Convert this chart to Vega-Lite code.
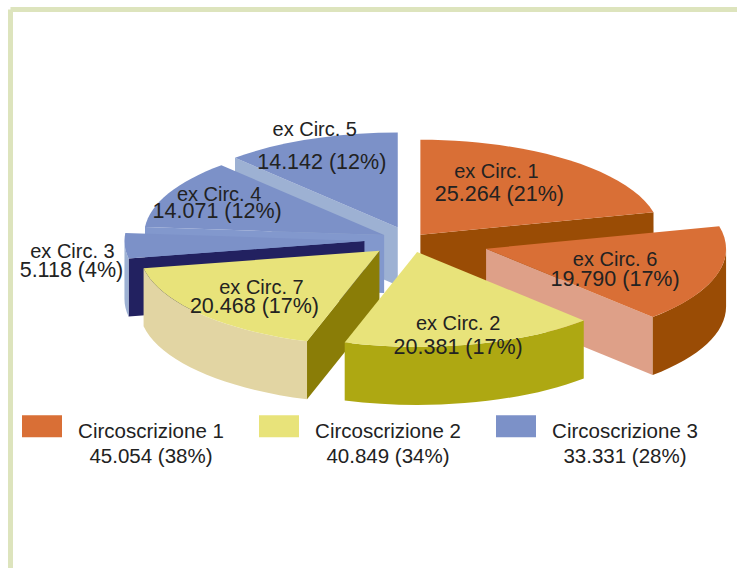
{
"$schema":"https://vega.github.io/schema/vega-lite/v6.json",
"width":727,"height":559,
"autosize":{"type":"none"},
"padding":{"left":10,"top":9,"right":0,"bottom":0},
"background":"white",
"config":{"view":{"stroke":null},"axis":{"title":null,"labels":false,"ticks":false,"grid":false,"domain":true,"domainColor":"#DDE4BD","domainWidth":5}},
"data":{"values":[
{"name":"ex Circ. 1","votes":25264,"group":"Circoscrizione 1"},
{"name":"ex Circ. 6","votes":19790,"group":"Circoscrizione 1"},
{"name":"ex Circ. 2","votes":20381,"group":"Circoscrizione 2"},
{"name":"ex Circ. 7","votes":20468,"group":"Circoscrizione 2"},
{"name":"ex Circ. 3","votes":5118,"group":"Circoscrizione 3"},
{"name":"ex Circ. 4","votes":14071,"group":"Circoscrizione 3"},
{"name":"ex Circ. 5","votes":14142,"group":"Circoscrizione 3"}
]},
"transform":[
{"joinaggregate":[{"op":"sum","field":"votes","as":"total"}]},
{"window":[{"op":"sum","field":"votes","as":"cum"}],"frame":[null,0]},
{"calculate":"(datum.cum-datum.votes)/datum.total*2*PI","as":"a0"},
{"calculate":"datum.cum/datum.total*2*PI","as":"a1"},
{"calculate":"(datum.a0+datum.a1)/2","as":"mid"},
{"calculate":"{'ex Circ. 1':0.07,'ex Circ. 6':0.33,'ex Circ. 2':0.13,'ex Circ. 7':0.17,'ex Circ. 3':0.19,'ex Circ. 4':0.12,'ex Circ. 5':0.14}[datum.name]","as":"pull"},
{"calculate":"410+datum.pull*240*sin(datum.mid)","as":"cx"},
{"calculate":"240-datum.pull*95*cos(datum.mid)","as":"cy"},
{"calculate":"round(240*sin(datum.a0)*100)/100","as":"sx"},
{"calculate":"round(-95*cos(datum.a0)*100)/100","as":"sy"},
{"calculate":"round(240*sin(datum.a1)*100)/100","as":"ex"},
{"calculate":"round(-95*cos(datum.a1)*100)/100","as":"ey"},
{"calculate":"'M0,0L'+datum.sx+','+datum.sy+'A240,95,0,0,1,'+datum.ex+','+datum.ey+'Z'","as":"topPath"},
{"calculate":"max(datum.a0,PI/2)","as":"o0"},
{"calculate":"min(datum.a1,3*PI/2)","as":"o1"},
{"calculate":"round(240*sin(datum.o0)*100)/100","as":"ox0"},
{"calculate":"round(-95*cos(datum.o0)*100)/100","as":"oy0"},
{"calculate":"round(240*sin(datum.o1)*100)/100","as":"ox1"},
{"calculate":"round(-95*cos(datum.o1)*100)/100","as":"oy1"},
{"calculate":"'M'+datum.ox0+','+datum.oy0+'A240,95,0,0,1,'+datum.ox1+','+datum.oy1+'L'+datum.ox1+','+(datum.oy1+58)+'A240,95,0,0,0,'+datum.ox0+','+(datum.oy0+58)+'Z'","as":"outerPath"},
{"calculate":"sin(datum.a0)<-0.001?datum.a0:datum.a1","as":"ra"},
{"calculate":"round(240*sin(datum.ra)*100)/100","as":"rx"},
{"calculate":"round(-95*cos(datum.ra)*100)/100","as":"ry"},
{"calculate":"'M0,0L'+datum.rx+','+datum.ry+'L'+datum.rx+','+(datum.ry+58)+'L0,58Z'","as":"radialPath"},
{"calculate":"{'ex Circ. 1':'#9A4C05','ex Circ. 6':'#DEA088','ex Circ. 2':'#AEA812','ex Circ. 7':'#8A7D07','ex Circ. 3':'#222160','ex Circ. 4':'#8298CD','ex Circ. 5':'#9DB1D3'}[datum.name]","as":"radialFill"},
{"calculate":"{'ex Circ. 1':'#9A4C05','ex Circ. 6':'#9A4C05','ex Circ. 2':'#AEA812','ex Circ. 7':'#E2D5A3','ex Circ. 3':'#9DB1D3','ex Circ. 4':'#9DB1D3','ex Circ. 5':'#9DB1D3'}[datum.name]","as":"outerFill"},
{"calculate":"{'ex Circ. 5':0,'ex Circ. 4':1,'ex Circ. 3':2,'ex Circ. 1':3,'ex Circ. 6':4,'ex Circ. 7':5,'ex Circ. 2':6}[datum.name]","as":"depth"},
{"calculate":"{'ex Circ. 1':[76,-63,79,-40],'ex Circ. 6':[129,11,129,31],'ex Circ. 2':[41,72,41,96],'ex Circ. 7':[-118,37,-125,56],'ex Circ. 3':[-292,11,-293,30],'ex Circ. 4':[-165,-40,-167,-23],'ex Circ. 5':[-83,-98,-76,-65]}[datum.name]","as":"lab"},
{"calculate":"datum.cx+datum.lab[0]","as":"l1x"},
{"calculate":"datum.cy+datum.lab[1]","as":"l1y"},
{"calculate":"datum.cx+datum.lab[2]","as":"l2x"},
{"calculate":"datum.cy+datum.lab[3]","as":"l2y"},
{"calculate":"replace(format(datum.votes,','),',','.')+' ('+format(datum.votes/datum.total*100,'.0f')+'%)'","as":"valueText"}
],
"layer":[
{"transform":[{"filter":"datum.name!='ex Circ. 2'"}],
 "mark":{"type":"point","filled":true,"size":4,"opacity":1,"strokeWidth":0},
 "encoding":{
  "x":{"field":"cx","type":"quantitative","scale":{"domain":[10,737],"nice":false,"zero":false},"axis":{"orient":"top"}},
  "y":{"field":"cy","type":"quantitative","scale":{"domain":[9,568],"nice":false,"zero":false,"reverse":true},"axis":{"orient":"left"}},
  "shape":{"field":"radialPath","type":"nominal","scale":null},
  "fill":{"field":"radialFill","type":"nominal","scale":null},
  "order":{"field":"depth","type":"quantitative"}
 }},
{"transform":[{"filter":"datum.o1>datum.o0"}],
 "mark":{"type":"point","filled":true,"size":4,"opacity":1,"strokeWidth":0},
 "encoding":{
  "x":{"field":"cx","type":"quantitative"},
  "y":{"field":"cy","type":"quantitative"},
  "shape":{"field":"outerPath","type":"nominal","scale":null},
  "fill":{"field":"outerFill","type":"nominal","scale":null},
  "order":{"field":"depth","type":"quantitative"}
 }},
{"mark":{"type":"point","filled":true,"size":4,"opacity":1,"strokeWidth":0},
 "encoding":{
  "x":{"field":"cx","type":"quantitative"},
  "y":{"field":"cy","type":"quantitative"},
  "shape":{"field":"topPath","type":"nominal","scale":null},
  "color":{"field":"group","type":"nominal",
   "scale":{"domain":["Circoscrizione 1","Circoscrizione 2","Circoscrizione 3"],"range":["#D96F36","#E8E37A","#7C91C8"]},
   "legend":{"title":null,"orient":"none","legendX":2,"legendY":393,"columns":3,"padding":10,"columnPadding":35,
     "symbolType":"M-1,-0.55H1V0.55H-1Z","symbolSize":1600,"symbolOpacity":1,"symbolStrokeWidth":0,
     "labelFont":"Liberation Sans","labelFontSize":20.5,"labelColor":"#222222","labelAlign":"center","labelOffset":89,"labelLimit":0,
     "labelExpr":"datum.label=='Circoscrizione 1'?['Circoscrizione 1','45.054 (38%)']:datum.label=='Circoscrizione 2'?['Circoscrizione 2','40.849 (34%)']:['Circoscrizione 3','33.331 (28%)']",
     "encode":{"labels":{"update":{"lineHeight":{"value":25}}},"symbols":{"update":{"y":{"value":14}}}}}
  }
 }},
{"mark":{"type":"text","font":"Liberation Sans","fontSize":20,"color":"#222222","align":"center","baseline":"middle"},
 "encoding":{
  "x":{"field":"l1x","type":"quantitative"},
  "y":{"field":"l1y","type":"quantitative"},
  "text":{"field":"name","type":"nominal"}
 }},
{"mark":{"type":"text","font":"Liberation Sans","fontSize":21.5,"color":"#222222","align":"center","baseline":"middle"},
 "encoding":{
  "x":{"field":"l2x","type":"quantitative"},
  "y":{"field":"l2y","type":"quantitative"},
  "text":{"field":"valueText","type":"nominal"}
 }}
]
}
